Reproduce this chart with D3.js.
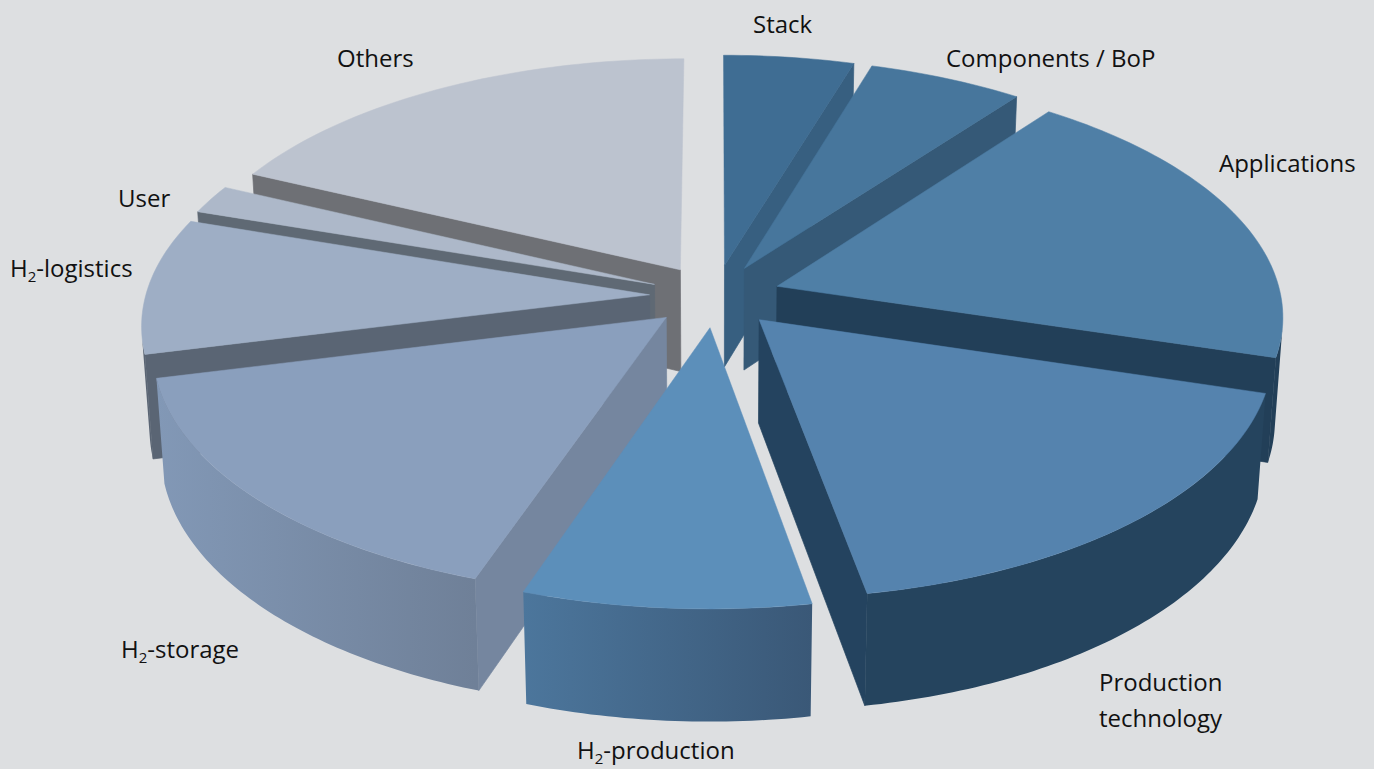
<!DOCTYPE html>
<html>
<head>
<meta charset="utf-8">
<script src="https://cdn.jsdelivr.net/npm/d3@7"></script>
<style>
  html, body { margin: 0; padding: 0; background: #dddfe1; }
  svg { display: block; }
  text { font-family: "Open Sans", sans-serif; font-size: 24px; fill: #111; }
</style>
</head>
<body>
<div id="chart"></div>
<script>
// Shares, clockwise from 12 o'clock
const categories = ["Stack", "Components / BoP", "Applications", "Production technology",
  "H2-production", "H2-storage", "H2-logistics", "User", "Others"];
const shares = [4.7, 5.6, 19.4, 17.5, 8.1, 15.9, 9.0, 1.9, 18.0];

// Colours per slice
const topColors = ["#3f6d93", "#47769c", "#4f7fa6", "#5583ae", "#5c8fba", "#8a9fbd", "#9eaec5", "#adb8c9", "#bcc3cf"];
const radialColors = ["#375f80", "#355977", "#223f58", "#24435f", "#3c5d7c", "#75869f", "#5a6574", "#5f6974", "#6e7075"];
const arcColors = [
  ["#375f80", "#375f80"], ["#355977", "#355977"], ["#223f58", "#223f58"], ["#25445e", "#25445e"],
  ["#3a5877", "#4c769c"], ["#6f8098", "#8298b6"], ["#5a6574", "#5a6574"], ["#5f6974", "#5f6974"], ["#6e7075", "#6e7075"]
];

const width = 1374, height = 769;
// Projection settings of the tilted, exploded pie
const cx = 715, cy = 296, rx = 504, ry = 241;
const perspective = 0.115, depthShrink = 0.014, wallHeight = 104, explode = 0.13;

const x = d3.scaleLinear().domain([-1, 1]).range([cx - rx, cx + rx]);
const y = d3.scaleLinear().domain([-1, 1]).range([cy + ry, cy - ry]);

// Ground point (gx to the right, gy to the back, z 0 = top, 1 = bottom) to screen
function project(gx, gy, z) {
  const s = 1 / (1 + perspective * gy + depthShrink * z);
  return [x(gx * s), y(gy * s) + wallHeight * z * s];
}

const svg = d3.select("#chart").append("svg").attr("width", width).attr("height", height);
const defs = svg.append("defs");
const line = d3.line();

const arcs = d3.pie().sort(null)(shares).map((d, i) => {
  const mid = (d.startAngle + d.endAngle) / 2;
  return {
    i,
    a0: d.startAngle,
    a1: d.endAngle,
    ox: explode * Math.sin(mid),
    oy: explode * Math.cos(mid)
  };
});

function rim(d, a, z) {
  return project(d.ox + Math.sin(a), d.oy + Math.cos(a), z);
}

// d3.polygonArea is positive for a polygon running counter-clockwise on screen
function facing(poly) {
  return d3.polygonArea(poly) > 0;
}

// Back slices first, so that front slices paint over them
const order = arcs.slice().sort((a, b) => d3.descending(a.oy, b.oy));

order.forEach(d => {
  const g = svg.append("g").attr("class", "slice");
  const apexTop = project(d.ox, d.oy, 0);
  const apexBot = project(d.ox, d.oy, 1);

  // radial walls; the area limit drops the slivers seen almost edge-on
  [[d.a0, false], [d.a1, true]].forEach(([a, isEnd]) => {
    const t = rim(d, a, 0), b = rim(d, a, 1);
    const quad = isEnd ? [t, apexTop, apexBot, b] : [apexTop, t, b, apexBot];
    if (d3.polygonArea(quad) > 500) {
      g.append("path").attr("d", line(quad) + "Z")
        .attr("fill", radialColors[d.i]).attr("stroke", radialColors[d.i]).attr("stroke-width", 0.7);
    }
  });

  // outer wall: only the part that faces us, as one shape with a sideways gradient
  const steps = Math.max(2, Math.ceil((d.a1 - d.a0) / 0.015));
  const angles = d3.range(steps + 1).map(k => d.a0 + (d.a1 - d.a0) * k / steps);
  const visible = d3.range(steps).filter(k => {
    const a = angles[k], b = angles[k + 1];
    return facing([rim(d, a, 0), rim(d, b, 0), rim(d, b, 1), rim(d, a, 1)]);
  });
  if (visible.length) {
    const shown = angles.slice(visible[0], visible[visible.length - 1] + 2);
    const wall = shown.map(a => rim(d, a, 0)).concat(shown.slice().reverse().map(a => rim(d, a, 1)));
    const id = "wall" + d.i;
    defs.append("linearGradient").attr("id", id).attr("gradientUnits", "userSpaceOnUse")
      .attr("x1", rim(d, shown[0], 0)[0]).attr("x2", rim(d, shown[shown.length - 1], 0)[0])
      .attr("y1", 0).attr("y2", 0)
      .selectAll("stop").data(arcColors[d.i]).join("stop")
      .attr("offset", (c, k) => k).attr("stop-color", c => c);
    g.append("path").attr("d", line(wall) + "Z").attr("fill", `url(#${id})`);
  }

  // top face
  const n = Math.ceil((d.a1 - d.a0) / 0.02);
  const top = [apexTop].concat(d3.range(n + 1).map(k => rim(d, d.a0 + (d.a1 - d.a0) * k / n, 0)));
  g.append("path").attr("d", line(top) + "Z")
    .attr("fill", topColors[d.i]).attr("stroke", topColors[d.i]).attr("stroke-width", 0.5);
});

// Labels; the positions sit apart from the data
const labelAt = [[753, 33], [946, 67], [1219, 172], [1099, 691], [577, 759], [121, 658], [10, 277], [118, 207], [337, 67]];

categories.forEach((name, i) => {
  const t = svg.append("text").attr("x", labelAt[i][0]).attr("y", labelAt[i][1]);
  if (name.startsWith("H2")) {
    t.append("tspan").text("H");
    t.append("tspan").attr("dy", 5).style("font-size", "15px").text("2");
    t.append("tspan").attr("dy", -5).text(name.slice(2));
  } else if (name === "Production technology") {
    t.append("tspan").text("Production");
    t.append("tspan").attr("x", labelAt[i][0]).attr("dy", 36).text("technology");
  } else {
    t.text(name);
  }
});
</script>
</body>
</html>
